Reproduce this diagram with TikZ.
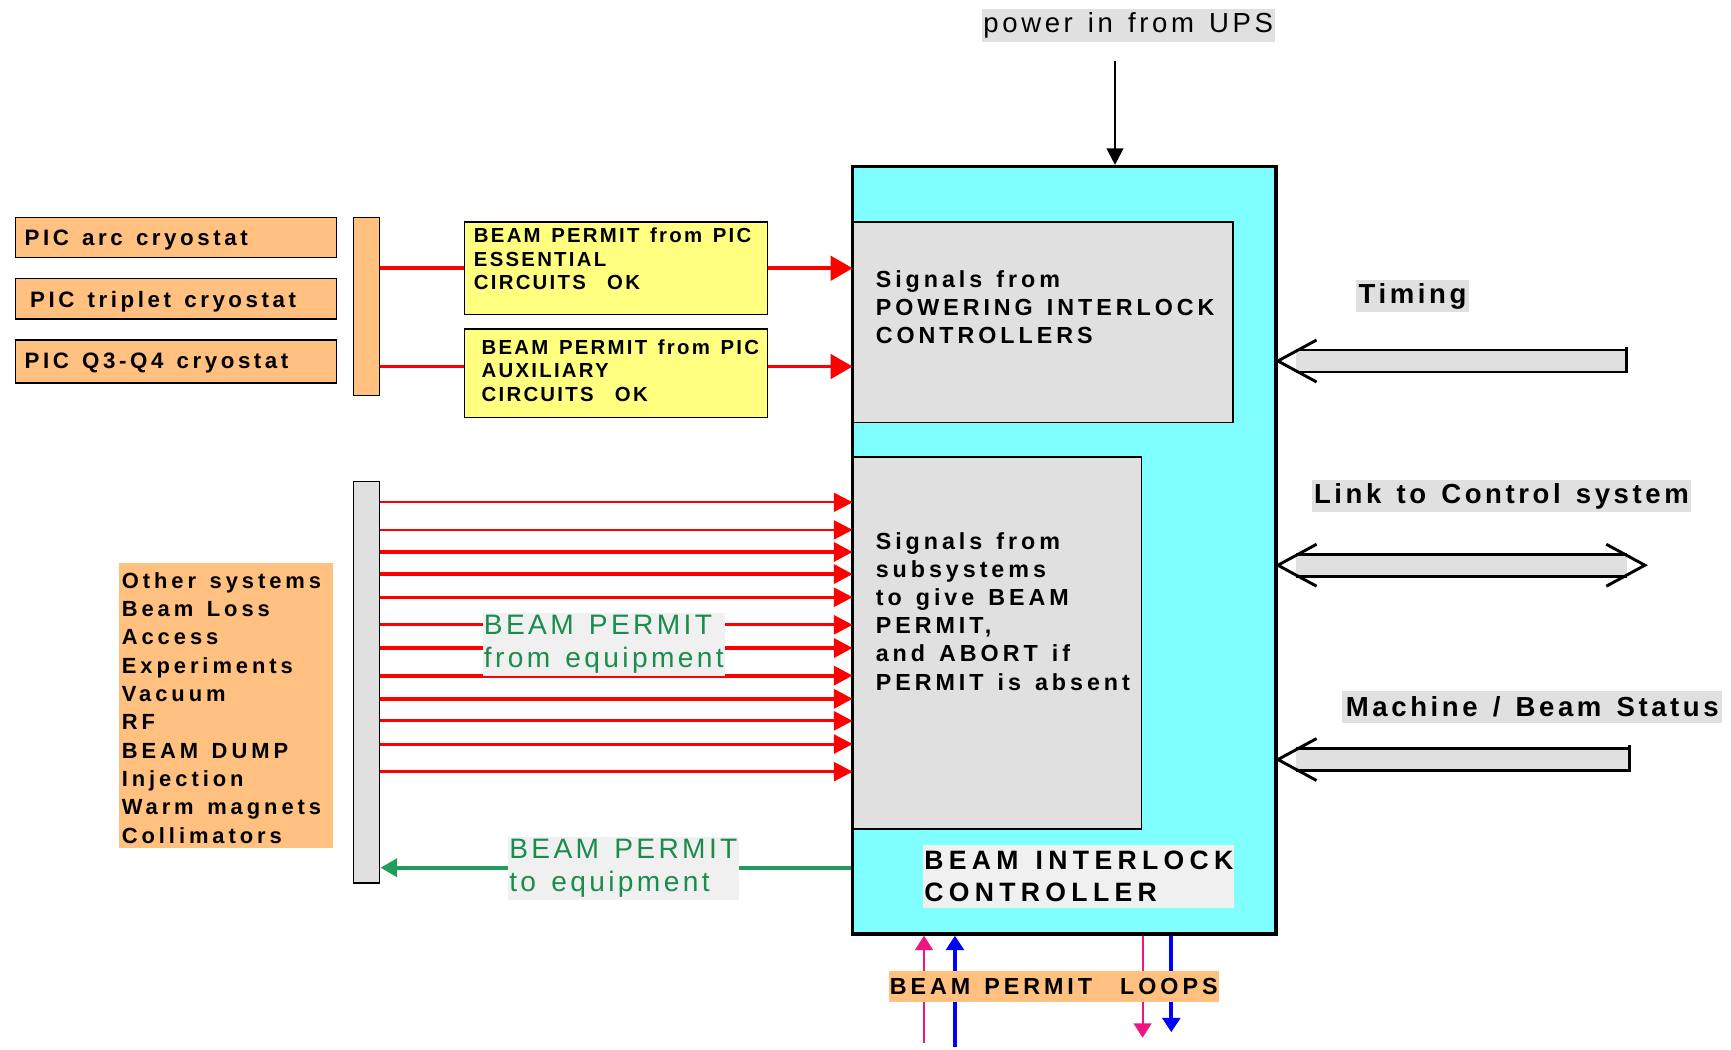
\documentclass[tikz,border=0pt]{standalone}
\usepackage{fontspec}
\setmainfont{Liberation Sans}
\newfontfamily\widefont[LetterSpace=18,WordSpace=1.35]{Liberation Sans}
\usetikzlibrary{arrows.meta,positioning,fit,calc}
\definecolor{cyanbox}{RGB}{128,255,255}
\definecolor{picorange}{RGB}{255,192,128}
\definecolor{permityel}{RGB}{255,255,128}
\definecolor{panelgray}{RGB}{224,224,224}
\definecolor{tagbg}{RGB}{240,240,240}
\definecolor{sigred}{RGB}{255,0,0}
\definecolor{eqgreen}{RGB}{30,158,90}
\definecolor{eqtext}{RGB}{26,140,78}
\definecolor{looppink}{RGB}{240,20,130}
\definecolor{loopblue}{RGB}{0,0,255}
% hollow arrows on the right
\newcommand{\fatshaft}[3]{%
  \fill[panelgray] ($(#1)+(16,-10)$) rectangle ($(#2)+(-#3,10)$);
  \draw[fatline] ($(#1)+(16,-10)$) -- ($(#2)+(-#3,-10)$) ($(#1)+(16,10)$) -- ($(#2)+(-#3,10)$);}
\newcommand{\fathead}[2]{%
  \draw[fatline] ($(#1)+(#2*35,-19)$) -- (#1) -- ($(#1)+(#2*35,19)$);}
\newcommand{\fattail}[1]{%
  \draw[fatline] ($(#1)+(0,-13)$) -- ($(#1)+(0,11)$);}

\begin{document}
\begin{tikzpicture}[x=0.2mm,y=-0.2mm,
  box/.style={draw,inner sep=0pt,line width=0.7pt},
  picbox/.style={box,fill=picorange},
  yelbox/.style={box,fill=permityel},
  panel/.style={box,fill=panelgray},
  pictext/.style={inner sep=0pt,anchor=west,font=\widefont\bfseries\addfontfeature{LetterSpace=16}\fontsize{11.5}{14}\selectfont},
  yeltext/.style={inner sep=0pt,anchor=north west,align=left,font=\widefont\bfseries\addfontfeature{LetterSpace=11}\fontsize{10.5}{12.2}\selectfont},
  sigtext/.style={inner sep=0pt,anchor=north west,align=left,font=\widefont\bfseries\addfontfeature{LetterSpace=17}\fontsize{12}{14.5}\selectfont},
  listbox/.style={fill=picorange,inner sep=0pt},
  listtext/.style={inner sep=0pt,anchor=north west,align=left,font=\widefont\bfseries\addfontfeature{LetterSpace=18}\fontsize{11.3}{14.6}\selectfont},
  eqtag/.style={fill=tagbg,text=eqtext,anchor=north west,align=left,inner xsep=0.2mm,inner ysep=0.4mm,font=\widefont\addfontfeature{LetterSpace=12}\fontsize{14.5}{17}\selectfont},
  bictag/.style={fill=tagbg,anchor=north west,align=left,inner xsep=0.2mm,inner ysep=1.1mm,font=\widefont\bfseries\addfontfeature{LetterSpace=20}\fontsize{13.7}{16.5}\selectfont},
  sidetag/.style={fill=panelgray,inner sep=0pt,minimum height=5.8mm,font=\widefont\bfseries\addfontfeature{LetterSpace=13}\fontsize{14.2}{17}\selectfont},
  upstag/.style={fill=panelgray,inner sep=0pt,minimum height=6mm,font=\widefont\addfontfeature{LetterSpace=13}\fontsize{14.2}{17}\selectfont},
  loopstag/.style={fill=picorange,inner sep=0pt,minimum height=5.6mm,font=\widefont\bfseries\addfontfeature{LetterSpace=17}\fontsize{12}{14}\selectfont},
  sigline/.style={sigred,line width=2pt},
  sig/.style={sigred,line width=2pt,-{Triangle[length=3.4mm,width=3.4mm]}},
  eqarrow/.style={eqgreen,line width=2.2pt,-{Triangle[length=3mm,width=3.2mm]}},
  pwr/.style={black,line width=1.1pt,-{Triangle[length=3mm,width=3mm]}},
  pinkloop/.style={looppink,line width=1.1pt,-{Triangle[length=2.6mm,width=3.2mm]}},
  blueloop/.style={loopblue,line width=2pt,-{Triangle[length=2.6mm,width=3.2mm]}},
  fatline/.style={black,line width=1.5pt}]

  \path[use as bounding box,fill=white] (0,0) rectangle (1568,951);

  % powering interlock side
  \node[picbox,fit={(14,197)(305,233)}] (arc) {};
  \node[pictext] at (22,217) {PIC arc cryostat};
  \node[picbox,fit={(14,252)(305,289)}] (trip) {};
  \node[pictext] at (27,273) {PIC triplet cryostat};
  \node[picbox,fit={(14,308)(305,347)}] (q34) {};
  \node[pictext] at (22,329) {PIC Q3-Q4 cryostat};
  \node[picbox,fit={(320,197)(344,358)}] (pbar) {};

  \node[yelbox,fit={(421,201)(695,285)}] (ess) {};
  \node[yeltext] at (429,206) {BEAM PERMIT from PIC\\ESSENTIAL\\CIRCUITS\ \ OK};
  \node[yelbox,fit={(421,298)(695,378)}] (aux) {};
  \node[yeltext] at (436,307) {BEAM PERMIT from PIC\\AUXILIARY\\CIRCUITS\ \ OK};

  % the controller
  \node[box,fill=cyanbox,line width=1.8pt,fit={(772,151)(1156,846)}] (bic) {};
  \node[panel,fit={(773,201)(1117,383)}] (pic) {};
  \node[sigtext] at (793,245) {Signals from\\POWERING INTERLOCK\\CONTROLLERS};
  \node[panel,fit={(773,414)(1034,751)}] (sub) {};
  \node[sigtext] at (793,482) {Signals from\\subsystems\\to give BEAM\\PERMIT,\\and ABORT if\\PERMIT is absent};
  \node[bictag] (bicl) at (836,765) {BEAM INTERLOCK\\CONTROLLER};

  \draw[sigline] (pbar.east |- ess.west) -- (ess.west);
  \draw[sig,-{Triangle[length=4mm,width=4.4mm]}] (ess.east) -- (ess.east -| pic.west);
  \draw[sigline] (pbar.east |- 0,332) -- (aux.west |- 0,332);
  \draw[sig,-{Triangle[length=4mm,width=4.4mm]}] (aux.east |- 0,332) -- (pic.west |- 0,332);

  % power
  \node[upstag,minimum width=53mm] (ups) at (1022,23) {power in from UPS};
  \coordinate (upsin) at (1010,55);
  \draw[pwr] (upsin) -- (upsin |- bic.north);

  % other systems
  \node[panel,fit={(320,436)(344,800)}] (ebar) {};
  \node[listbox,fit={(108,510)(302,768)}] (sys) {};
  \node[listtext] at (110,518) {Other systems\\Beam Loss\\Access\\Experiments\\Vacuum\\RF\\BEAM DUMP\\Injection\\Warm magnets\\Collimators};
  \foreach \y/\w in {455/1.2,480/1.2,500/2.1,520/2.1,541/1.6,566/1.6,587/2.1,612/2.1,633/2.1,653/1.6,674/1.6,699/1.6}
    \draw[sig,line width=\w pt] (ebar.east |- 0,\y) -- (sub.west |- 0,\y);
  \node[eqtag] (fromeq) at (437,555) {BEAM PERMIT\\from equipment};

  \draw[eqarrow] (bic.west |- 0,786) -- (ebar.east |- 0,786);
  \node[eqtag] (toeq) at (460,758) {BEAM PERMIT\\to equipment};

  % right side links
  \node[sidetag,minimum width=20.6mm] (tim) at (1279.5,268.5) {Timing};
  \coordinate (timsrc) at (1473,327);
  \coordinate (timtip) at (bic.east |- timsrc);
  \fatshaft{timtip}{timsrc}{0}
  \fathead{timtip}{1}
  \fattail{timsrc}

  \node[sidetag,minimum width=68.8mm] (lnk) at (1360,449.5) {Link to Control system};
  \coordinate (lnkend) at (1490,512);
  \coordinate (lnktip) at (bic.east |- lnkend);
  \fatshaft{lnktip}{lnkend}{16}
  \fathead{lnktip}{1}
  \fathead{lnkend}{-1}

  \node[sidetag,minimum width=68.8mm] (mbs) at (1388,640) {Machine / Beam Status};
  \coordinate (mbssrc) at (1476,688);
  \coordinate (mbstip) at (bic.east |- mbssrc);
  \fatshaft{mbstip}{mbssrc}{0}
  \fathead{mbstip}{1}
  \fattail{mbssrc}

  % permit loops
  \coordinate (pinkin) at (837,945);
  \coordinate (bluein) at (865,948);
  \coordinate (pinkout) at (1035,940);
  \coordinate (blueout) at (1061,935);
  \draw[pinkloop] (pinkin) -- (pinkin |- bic.south);
  \draw[blueloop] (bluein) -- (bluein |- bic.south);
  \draw[pinkloop] (pinkout |- bic.south) -- (pinkout);
  \draw[blueloop] (blueout |- bic.south) -- (blueout);
  \node[loopstag,minimum width=59.8mm] (loops) at (954.5,894) {BEAM PERMIT\ \ LOOPS};
\end{tikzpicture}
\end{document}
